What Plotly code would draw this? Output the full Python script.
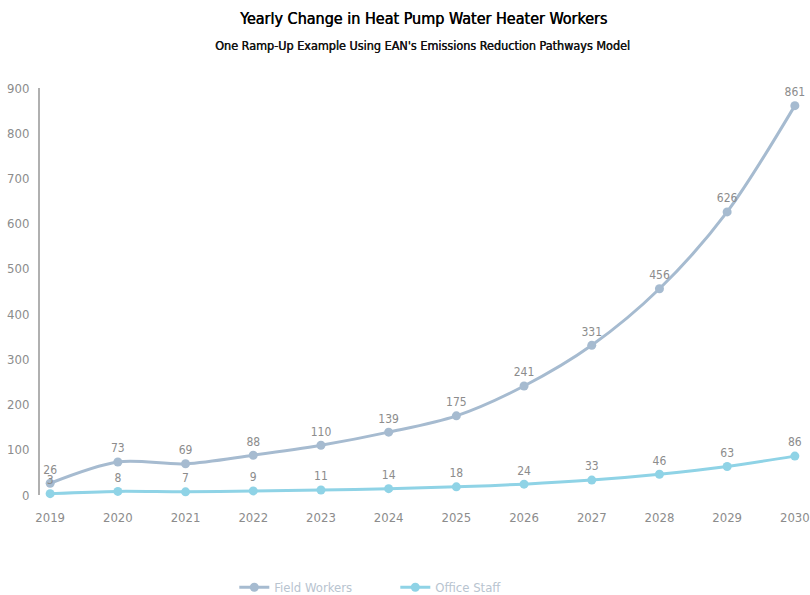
import plotly.graph_objects as go

years = list(range(2019, 2031))
field_workers = [26, 73, 69, 88, 110, 139, 175, 241, 331, 456, 626, 861]
office_staff = [3, 8, 7, 9, 11, 14, 18, 24, 33, 46, 63, 86]
y_ticks = [0, 100, 200, 300, 400, 500, 600, 700, 800, 900]

FONT = "DejaVu Sans Condensed, Roboto, sans-serif"
LABEL_GRAY = "#8c8c8c"

fig = go.Figure()
fig.add_trace(go.Scatter(
    x=years, y=field_workers, name="Field Workers",
    mode="lines+markers+text", line=dict(color="#a6bbd0", width=3, shape="spline", smoothing=0.9),
    marker=dict(size=9, color="#a6bbd0"),
    text=[str(v) for v in field_workers], textposition="top center",
    textfont=dict(color=LABEL_GRAY, size=12, family=FONT),
))
fig.add_trace(go.Scatter(
    x=years, y=office_staff, name="Office Staff",
    mode="lines+markers+text", line=dict(color="#8fd3e6", width=3, shape="spline", smoothing=0.9),
    marker=dict(size=9, color="#8fd3e6"),
    text=[str(v) for v in office_staff], textposition="top center",
    textfont=dict(color=LABEL_GRAY, size=12, family=FONT),
))

fig.update_layout(
    width=810, height=595,
    margin=dict(l=40, r=5, t=88, b=100, autoexpand=False),
    plot_bgcolor="white", paper_bgcolor="white",
    font=dict(family=FONT, color=LABEL_GRAY, size=13),
    xaxis=dict(
        range=[2018.85, 2030.15], tickvals=years, ticktext=[str(y) for y in years],
        showgrid=False, zeroline=False, showline=False,
        ticks="outside", ticklen=10, tickcolor="rgba(0,0,0,0)",
        tickfont=dict(size=13, color=LABEL_GRAY),
    ),
    yaxis=dict(
        range=[0, 900], tickvals=y_ticks, showgrid=False, zeroline=False,
        showline=True, linecolor="#b0b0b0", linewidth=2,
        ticks="outside", ticklen=6, tickcolor="rgba(0,0,0,0)",
        tickfont=dict(size=13, color=LABEL_GRAY),
    ),
    legend=dict(
        orientation="h", x=0.254, xanchor="left",
        yref="container", y=0.013, yanchor="middle",
        font=dict(size=13, color="#b8c4d0"), itemwidth=30,
        entrywidth=116, entrywidthmode="pixels",
        traceorder="normal",
    ),
    annotations=[
        dict(text="Yearly Change in Heat Pump Water Heater Workers",
             xref="paper", yref="paper", x=0.5, y=1.0, yshift=70, xanchor="center", yanchor="middle",
             showarrow=False,
             font=dict(family=FONT, size=16, color="#000000", shadow="0.5px 0 0 #000")),
        dict(text="One Ramp-Up Example Using EAN's Emissions Reduction Pathways Model",
             xref="paper", yref="paper", x=0.5, y=1.0, yshift=43, xanchor="center", yanchor="middle",
             showarrow=False,
             font=dict(family=FONT, size=12.5, color="#111111", shadow="0.4px 0 0 #111")),
    ],
)
fig.update_traces(cliponaxis=False)

fig.write_html("out.html")
